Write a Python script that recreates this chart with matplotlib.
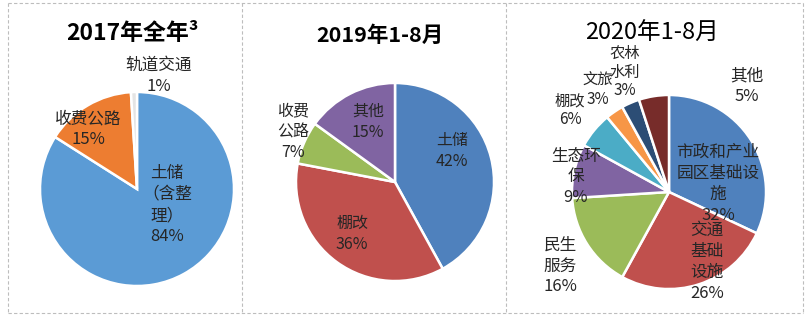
import matplotlib.pyplot as plt

plt.rcParams['font.family'] = ['Noto Sans CJK SC', 'DejaVu Sans']

# 2017 full year
names_2017 = ['土储\n（含整\n理）', '收费公路', '轨道交通']
values_2017 = [84, 15, 1]
colors_2017 = ['#5B9BD5', '#ED7D31', '#E4E4E4']

# 2019 Jan-Aug
names_2019 = ['土储', '棚改', '收费\n公路', '其他']
values_2019 = [42, 36, 7, 15]
colors_2019 = ['#4F81BD', '#C0504D', '#9BBB59', '#8064A2']

# 2020 Jan-Aug
names_2020 = ['市政和产业\n园区基础设\n施', '交通\n基础\n设施', '民生\n服务', '生态环\n保',
              '棚改', '文旅', '农林\n水利', '其他']
values_2020 = [32, 26, 16, 9, 6, 3, 3, 5]
colors_2020 = ['#4F81BD', '#C0504D', '#9BBB59', '#8064A2', '#4BACC6', '#F79646', '#2C4D75', '#772C2A']

titles = ['2017年全年³', '2019年1-8月', '2020年1-8月']

W, H = 808, 324
TXT = '#262626'


def Y(y):
    # picture rows run downward, axes y runs upward
    return H - y


fig = plt.figure(figsize=(W / 100, H / 100), dpi=100)
ax = fig.add_axes([0, 0, 1, 1])

# panel borders (dashed, like the spreadsheet chart frames)
for x in [8, 242, 506, 803]:
    ax.plot([x, x], [Y(3), Y(313)], color='#BDBDBD', lw=0.8, ls=(0, (3, 2)))
for y in [3, 313]:
    ax.plot([8, 803], [Y(y), Y(y)], color='#BDBDBD', lw=0.8, ls=(0, (3, 2)))

wp = dict(edgecolor='white', linewidth=1.8)

ax.pie(values_2017, colors=colors_2017, startangle=90, counterclock=False,
       center=(137, Y(189)), radius=97, explode=[0, 0.06, 0.06], wedgeprops=wp)
ax.pie(values_2019, colors=colors_2019, startangle=90, counterclock=False,
       center=(395, Y(182)), radius=99, explode=[0.02] * 4, wedgeprops=wp)
ax.pie(values_2020, colors=colors_2020, startangle=90, counterclock=False,
       center=(669, Y(192)), radius=97, explode=[0.03] * 8, wedgeprops=wp)

# titles
ax.text(132, Y(34), titles[0], ha='center', va='center', fontsize=16.5, fontweight='bold')
ax.text(380, Y(35), titles[1], ha='center', va='center', fontsize=15.5, fontweight='bold')
ax.text(652, Y(33), titles[2], ha='center', va='center', fontsize=17)

# data labels (the three small 2020 slices get a slightly smaller font)
pos_2017 = [(167, 205), (88, 129), (159, 76)]
pos_2019 = [(452, 151), (352, 234), (293, 132), (368, 122)]
pos_2020 = [(718, 184), (707, 262), (560, 266), (576, 177),
            (570, 110), (598, 90), (625, 72), (747, 86)]
size_2020 = [12, 12, 12, 12, 11, 11, 11, 12]

for names, values, pos, sizes in [(names_2017, values_2017, pos_2017, [12] * 3),
                                  (names_2019, values_2019, pos_2019, [11.5] * 4),
                                  (names_2020, values_2020, pos_2020, size_2020)]:
    for n, v, (x, y), fs in zip(names, values, pos, sizes):
        ax.text(x, Y(y), f'{n}\n{v}%', ha='center', va='center', fontsize=fs,
                color=TXT, linespacing=1.3 if fs == 12 or fs == 11.5 else 1.15)

ax.set_xlim(0, W)
ax.set_ylim(0, H)
ax.set_aspect('equal')
ax.axis('off')

fig.savefig('out.png', dpi=100, facecolor='white')
